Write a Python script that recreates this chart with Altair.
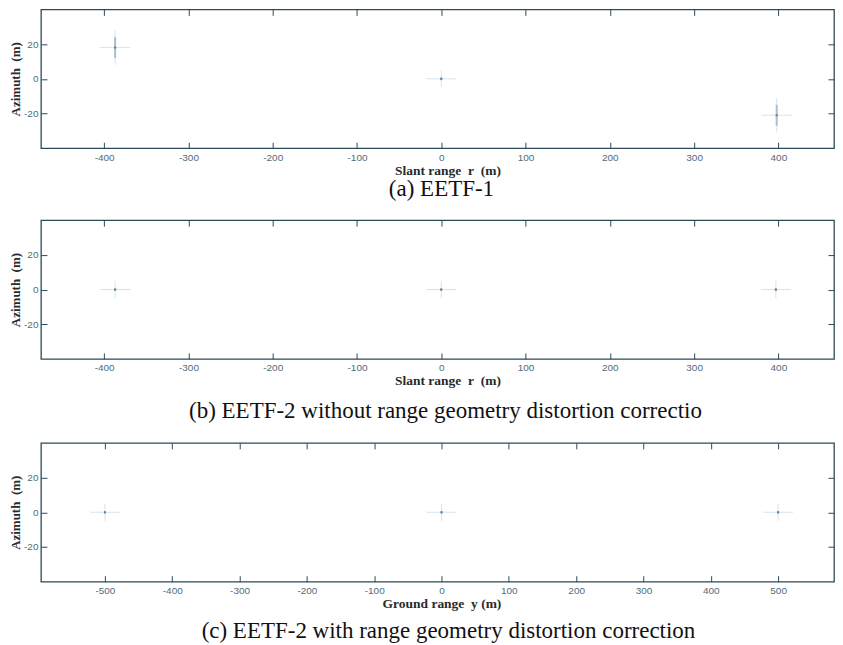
import altair as alt
import pandas as pd

# ---------------- data ----------------
# panel (a) EETF-1
a_x = [-387, 0, 398]
a_y = [18, 0, -21]
a_hx = [18, 18, 18]      # faint horizontal arm half-length (m)
a_vy = [10, 5, 10]       # faint vertical arm half-length (m)
a_core = [6, 0.8, 6]     # smeared core half-length (m)

# panel (b) EETF-2 without correction
b_x = [-387, 0, 397]
b_y = [0, 0, 0]
b_hx = [18, 18, 18]
b_vy = [5, 5, 5]
b_core = [0.8, 0.8, 0.8]

# panel (c) EETF-2 with correction
c_x = [-500, 0, 500]
c_y = [0, 0, 0]
c_hx = [22, 22, 22]
c_vy = [5, 5, 5]
c_core = [0.8, 0.8, 0.8]

slant_ticks = [-400, -300, -200, -100, 0, 100, 200, 300, 400]
ground_ticks = [-500, -400, -300, -200, -100, 0, 100, 200, 300, 400, 500]
az_ticks = [-20, 0, 20]

slant_domain = [-475, 466]
ground_domain = [-595, 583]
az_domain = [-40, 40]

W, H = 794, 139
AXC = "#2d4a58"
LBC = "#4f6b7b"
SP = "\u00a0"


def panel(xs, ys, hx, vy, core, xdom, xticks, xtitle, txpos, caption, cdx, coff):
    df = pd.DataFrame(dict(x=xs, y=ys, hx=hx, vy=vy, core=core))
    base = alt.Chart(df).transform_calculate(
        x1="datum.x - datum.hx", x2="datum.x + datum.hx",
        y1="datum.y - datum.vy", y2="datum.y + datum.vy",
        c1="datum.y - datum.core", c2="datum.y + datum.core",
    )
    xsc = alt.Scale(domain=xdom, nice=False, zero=False)
    ysc = alt.Scale(domain=az_domain, nice=False, zero=False)
    xaxis = alt.Axis(
        values=xticks, ticks=False, domain=False,
        grid=True, gridColor=AXC, gridOpacity=1, gridWidth=1,
        gridDash=[6, H - 12, 6, 400],
        labelExpr="'' + datum.value", labelFont="Liberation Sans",
        labelFontSize=10, labelColor=LBC, labelPadding=4,
        title=xtitle, titleFont="Liberation Serif", titleFontSize=13.5,
        titleFontWeight="bold", titleColor="#2a2a2a", titlePadding=1,
        titleX=txpos,
    )
    yaxis = alt.Axis(
        values=az_ticks, ticks=False, domain=False,
        grid=True, gridColor=AXC, gridOpacity=1, gridWidth=1,
        gridDash=[6, W - 12, 6, 400],
        labelExpr="'' + datum.value", labelFont="Liberation Sans",
        labelFontSize=10, labelColor=LBC, labelPadding=3,
        title="Azimuth" + SP + SP + "(m)", titleFont="Liberation Serif",
        titleFontSize=13, titleFontWeight="bold", titleColor="#2a2a2a",
        titlePadding=1,
    )
    hor = base.mark_rule(color="#d6e4ee", strokeWidth=1).encode(
        x=alt.X("x1:Q", scale=xsc, axis=xaxis), x2="x2:Q",
        y=alt.Y("y:Q", scale=ysc, axis=yaxis),
    )
    ver = base.mark_rule(color="#d6e4ee", strokeWidth=1).encode(
        x=alt.X("x:Q", scale=xsc, axis=xaxis),
        y=alt.Y("y1:Q", scale=ysc, axis=yaxis), y2="y2:Q",
    )
    cor = base.mark_rule(color="#a6c0d0", strokeWidth=2).encode(
        x=alt.X("x:Q", scale=xsc, axis=xaxis),
        y=alt.Y("c1:Q", scale=ysc, axis=yaxis), y2="c2:Q",
    )
    dot = base.mark_square(color="#56788c", size=4, opacity=0.9).encode(
        x=alt.X("x:Q", scale=xsc, axis=xaxis),
        y=alt.Y("y:Q", scale=ysc, axis=yaxis),
    )
    return alt.layer(hor, ver, cor, dot).properties(
        width=W, height=H,
        title=alt.TitleParams(
            caption, orient="bottom", anchor="middle", font="Liberation Serif",
            fontSize=23, fontWeight="normal", color="#111111", offset=coff, dx=cdx,
        ),
    )


slant_title = "Slant range" + SP + SP + "r" + SP + SP + "(m)"
ground_title = "Ground range" + SP + SP + "y" + SP + "(m)"

pa = panel(a_x, a_y, a_hx, a_vy, a_core, slant_domain, slant_ticks,
           slant_title, 407, "(a) EETF-1", 4, 1)
pb = panel(b_x, b_y, b_hx, b_vy, b_core, slant_domain, slant_ticks,
           slant_title, 407, "(b) EETF-2 without range geometry distortion correctio", 8, 13)
pc = panel(c_x, c_y, c_hx, c_vy, c_core, ground_domain, ground_ticks,
           ground_title, 401, "(c) EETF-2 with range geometry distortion correction", 11, 10)

chart = alt.vconcat(pa, pb, pc, spacing=17).properties(
    padding={"left": 0, "top": 0, "right": 0, "bottom": 0},
    background="white",
).configure_view(stroke=AXC, strokeWidth=1.3)

chart.save("out.html", embed_options={"renderer": "svg", "actions": False})
